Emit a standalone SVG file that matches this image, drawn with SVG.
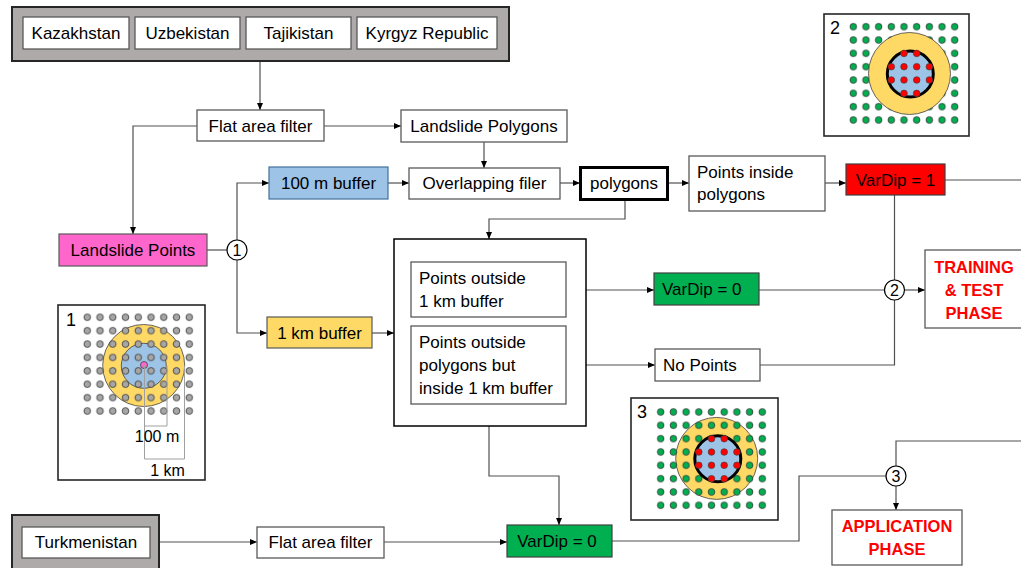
<svg xmlns="http://www.w3.org/2000/svg" width="1021" height="568" viewBox="0 0 1021 568">
<style>
.n{fill:#fff;stroke:#595959;stroke-width:1.3}
.g{fill:#AEAAAA;stroke:#262626;stroke-width:2}
.t{font-family:"Liberation Sans",Arial,sans-serif;font-size:17px;fill:#000}
.m{text-anchor:middle}
.r{fill:#FF0000;font-weight:bold;font-size:16.5px}
.c{stroke:#505050;stroke-width:1.2;fill:none}
.a{marker-end:url(#arr)}
.inset{fill:#fff;stroke:#262626;stroke-width:1.6}
.yel{fill:#FFD966;stroke:#404040;stroke-width:0.8}
.blu{fill:#9DC3E6;stroke:#404040;stroke-width:0.8}
.bluk{fill:#9DC3E6;stroke:#000;stroke-width:3}
.rd{fill:#FF0000;stroke:#404040;stroke-width:0.7}
.dim{stroke:#A0A0A0;stroke-width:1;fill:none}
.num{fill:#fff;stroke:#000;stroke-width:1.2}
</style>
<defs>
<marker id="arr" viewBox="0 0 7 7" refX="7" refY="3.5" markerWidth="7" markerHeight="7" orient="auto" markerUnits="userSpaceOnUse"><path d="M0,0.5 L7,3.5 L0,6.5 z" fill="#000"/></marker>
<pattern id="pg1" patternUnits="userSpaceOnUse" x="80.9" y="310.6" width="12.75" height="13.39"><circle cx="6.375" cy="6.695" r="3.3" fill="#A6A6A6" stroke="#333" stroke-width="0.8"/></pattern>
<pattern id="pg2" patternUnits="userSpaceOnUse" x="846.96" y="20.03" width="12.675" height="13.33"><circle cx="6.34" cy="6.665" r="3.3" fill="#00B050" stroke="#333" stroke-width="0.8"/></pattern>
<pattern id="pg3" patternUnits="userSpaceOnUse" x="654.35" y="405.33" width="12.7" height="13.33"><circle cx="6.35" cy="6.665" r="3.3" fill="#00B050" stroke="#333" stroke-width="0.8"/></pattern>
</defs>

<g id="connectors">
<path class="c a" d="M260,61 V110"/>
<path class="c a" d="M197,126 H133 V234"/>
<path class="c a" d="M324,126 H401"/>
<path class="c a" d="M484,142 V168"/>
<path class="c" d="M207,250 H227"/>
<path class="c a" d="M237,240 V183 H269"/>
<path class="c a" d="M237,260 V333 H267"/>
<path class="c a" d="M388,183 H409"/>
<path class="c a" d="M560,183 H580"/>
<path class="c a" d="M668,183 H689"/>
<path class="c a" d="M825,183 H846"/>
<path class="c" d="M945,180 H1021"/>
<path class="c" d="M894.5,195 V280"/>
<path class="c a" d="M625,200 V219 H489 V239"/>
<path class="c a" d="M372,333 H394"/>
<path class="c a" d="M566,290 H654"/>
<path class="c a" d="M566,365 H655"/>
<path class="c" d="M759,290 H884.5"/>
<path class="c" d="M760,365 H894.5 V300"/>
<path class="c a" d="M904.5,290 H925"/>
<path class="c a" d="M489,426 V476 H559 V525"/>
<path class="c a" d="M159,542 H257"/>
<path class="c a" d="M384,542 H507"/>
<path class="c" d="M612,541 H799 V476 H886"/>
<path class="c" d="M896,466 V441 H1021"/>
<path class="c a" d="M896,486 V510"/>
</g>

<g id="countries">
<rect class="g" x="12" y="7" width="497" height="54"/>
<rect class="n" x="23" y="17" width="106" height="32"/>
<text class="t m" x="76" y="39">Kazakhstan</text>
<rect class="n" x="135" y="17" width="105" height="32"/>
<text class="t m" x="187.5" y="39">Uzbekistan</text>
<rect class="n" x="246" y="17" width="105" height="32"/>
<text class="t m" x="298.5" y="39">Tajikistan</text>
<rect class="n" x="357" y="17" width="140" height="32"/>
<text class="t m" x="427" y="39">Kyrgyz Republic</text>
</g>

<g id="flat1">
<rect class="n" x="197" y="110" width="127" height="31"/>
<text class="t m" x="260.5" y="131.5">Flat area filter</text>
</g>
<g id="polys">
<rect class="n" x="401" y="110" width="166" height="32"/>
<text class="t m" x="484" y="132">Landslide Polygons</text>
</g>
<g id="buf100">
<rect x="269" y="167" width="119" height="32" fill="#9DC3E6" stroke="#41719C" stroke-width="1.2"/>
<text class="t m" x="328.5" y="189">100 m buffer</text>
</g>
<g id="overlap">
<rect class="n" x="409" y="168" width="151" height="31"/>
<text class="t m" x="484.5" y="189">Overlapping filer</text>
</g>
<g id="polygons">
<rect x="580.5" y="167.5" width="87" height="32" fill="#fff" stroke="#000" stroke-width="3"/>
<text class="t m" x="624" y="189">polygons</text>
</g>
<g id="inside">
<rect class="n" x="689" y="156" width="136" height="55"/>
<text class="t" x="697" y="177.7">Points inside</text>
<text class="t" x="697" y="200">polygons</text>
</g>
<g id="vardip1">
<rect x="846" y="164" width="99" height="31" fill="#FF0000" stroke="#404040" stroke-width="1.2"/>
<text class="t m" x="895.5" y="185.5">VarDip = 1</text>
</g>
<g id="lpoints">
<rect x="59" y="234" width="148" height="32" fill="#FF66CC" stroke="#595959" stroke-width="1.2"/>
<text class="t m" x="133" y="256">Landslide Points</text>
</g>
<g id="c1">
<circle class="num" cx="237" cy="250" r="10"/>
<text class="t m" x="237" y="256" style="font-size:16px">1</text>
</g>
<g id="buf1km">
<rect x="267" y="317" width="105" height="31" fill="#FFD966" stroke="#595959" stroke-width="1.2"/>
<text class="t m" x="319.5" y="338.5">1 km buffer</text>
</g>
<g id="bigbox">
<rect x="394" y="239" width="192" height="187" fill="#fff" stroke="#000" stroke-width="1.5"/>
</g>
<g id="out1km">
<rect class="n" x="411" y="262" width="155" height="55"/>
<text class="t" x="419" y="284">Points outside</text>
<text class="t" x="419" y="307">1 km buffer</text>
</g>
<g id="outpoly">
<rect class="n" x="411" y="326" width="155" height="78"/>
<text class="t" x="419" y="348">Points outside</text>
<text class="t" x="419" y="371">polygons but</text>
<text class="t" x="419" y="394">inside 1 km buffer</text>
</g>
<g id="vardip0a">
<rect x="654" y="273" width="105" height="32" fill="#00B050" stroke="#404040" stroke-width="1.2"/>
<text class="t" x="662" y="295">VarDip = 0</text>
</g>
<g id="nopoints">
<rect class="n" x="655" y="349" width="105" height="32"/>
<text class="t" x="663" y="371">No Points</text>
</g>
<g id="c2">
<circle class="num" cx="894.5" cy="290" r="10"/>
<text class="t m" x="894.5" y="296" style="font-size:16px">2</text>
</g>
<g id="training">
<rect class="n" x="925" y="250" width="110" height="78"/>
<text class="t m r" x="974" y="273">TRAINING</text>
<text class="t m r" x="974" y="296">&amp; TEST</text>
<text class="t m r" x="974" y="319">PHASE</text>
</g>

<g id="inset1">
<rect class="inset" x="58" y="305" width="147" height="175"/>
<text class="t" x="66" y="326" style="font-size:18px">1</text>
<circle class="yel" cx="143.7" cy="365.5" r="41"/>
<circle class="blu" cx="143.8" cy="365.8" r="22.5"/>
<rect x="80.9" y="310.6" width="114.75" height="107.12" fill="url(#pg1)"/>
<circle cx="144" cy="365" r="3.5" fill="#FF66CC" stroke="#404040" stroke-width="0.8"/>
<path class="dim" d="M144.5,365 V459 H184.5 V366 M167,366 V426 H144.5"/>
<text class="t m" x="157" y="442" style="font-size:16px">100 m</text>
<text class="t m" x="167.5" y="476" style="font-size:16px">1 km</text>
</g>

<g id="inset2">
<rect class="inset" x="824" y="14" width="145" height="122"/>
<text class="t" x="830" y="34" style="font-size:18px">2</text>
<rect x="846.96" y="20.03" width="114.08" height="106.64" fill="url(#pg2)"/>
<circle class="yel" cx="909.5" cy="73.5" r="41"/>
<circle class="bluk" cx="910.3" cy="74" r="23"/>
<circle class="rd" cx="904" cy="53.4" r="3.3"/>
<circle class="rd" cx="916.7" cy="53.4" r="3.3"/>
<circle class="rd" cx="891.3" cy="66.7" r="3.3"/>
<circle class="rd" cx="904" cy="66.7" r="3.3"/>
<circle class="rd" cx="916.7" cy="66.7" r="3.3"/>
<circle class="rd" cx="929.35" cy="66.7" r="3.3"/>
<circle class="rd" cx="891.3" cy="80" r="3.3"/>
<circle class="rd" cx="904" cy="80" r="3.3"/>
<circle class="rd" cx="916.7" cy="80" r="3.3"/>
<circle class="rd" cx="929.35" cy="80" r="3.3"/>
<circle class="rd" cx="904" cy="93.4" r="3.3"/>
<circle class="rd" cx="916.7" cy="93.4" r="3.3"/>
</g>

<g id="inset3">
<rect class="inset" x="631" y="398" width="147" height="122"/>
<text class="t" x="637" y="418" style="font-size:18px">3</text>
<circle class="yel" cx="716.7" cy="458.4" r="41"/>
<rect x="654.35" y="405.33" width="114.3" height="106.64" fill="url(#pg3)"/>
<circle class="bluk" cx="717.8" cy="458.7" r="23"/>
<circle class="rd" cx="711.5" cy="438.7" r="3.3"/>
<circle class="rd" cx="724.2" cy="438.7" r="3.3"/>
<circle class="rd" cx="698.8" cy="452" r="3.3"/>
<circle class="rd" cx="711.5" cy="452" r="3.3"/>
<circle class="rd" cx="724.2" cy="452" r="3.3"/>
<circle class="rd" cx="736.9" cy="452" r="3.3"/>
<circle class="rd" cx="698.8" cy="465.3" r="3.3"/>
<circle class="rd" cx="711.5" cy="465.3" r="3.3"/>
<circle class="rd" cx="724.2" cy="465.3" r="3.3"/>
<circle class="rd" cx="736.9" cy="465.3" r="3.3"/>
<circle class="rd" cx="711.5" cy="478.7" r="3.3"/>
<circle class="rd" cx="724.2" cy="478.7" r="3.3"/>
</g>

<g id="turkmenistan">
<rect class="g" x="12" y="515" width="147" height="60"/>
<rect class="n" x="22" y="527" width="128" height="31"/>
<text class="t m" x="86" y="548">Turkmenistan</text>
</g>
<g id="flat2">
<rect class="n" x="257" y="527" width="127" height="31"/>
<text class="t m" x="320.5" y="548">Flat area filter</text>
</g>
<g id="vardip0b">
<rect x="507" y="525" width="105" height="32" fill="#00B050" stroke="#404040" stroke-width="1.2"/>
<text class="t m" x="557" y="547">VarDip = 0</text>
</g>
<g id="c3">
<circle class="num" cx="896" cy="476" r="10"/>
<text class="t m" x="896" y="482" style="font-size:16px">3</text>
</g>
<g id="application">
<rect class="n" x="832" y="510" width="130" height="55"/>
<text class="t m r" x="897" y="532">APPLICATION</text>
<text class="t m r" x="897" y="555">PHASE</text>
</g>
</svg>
